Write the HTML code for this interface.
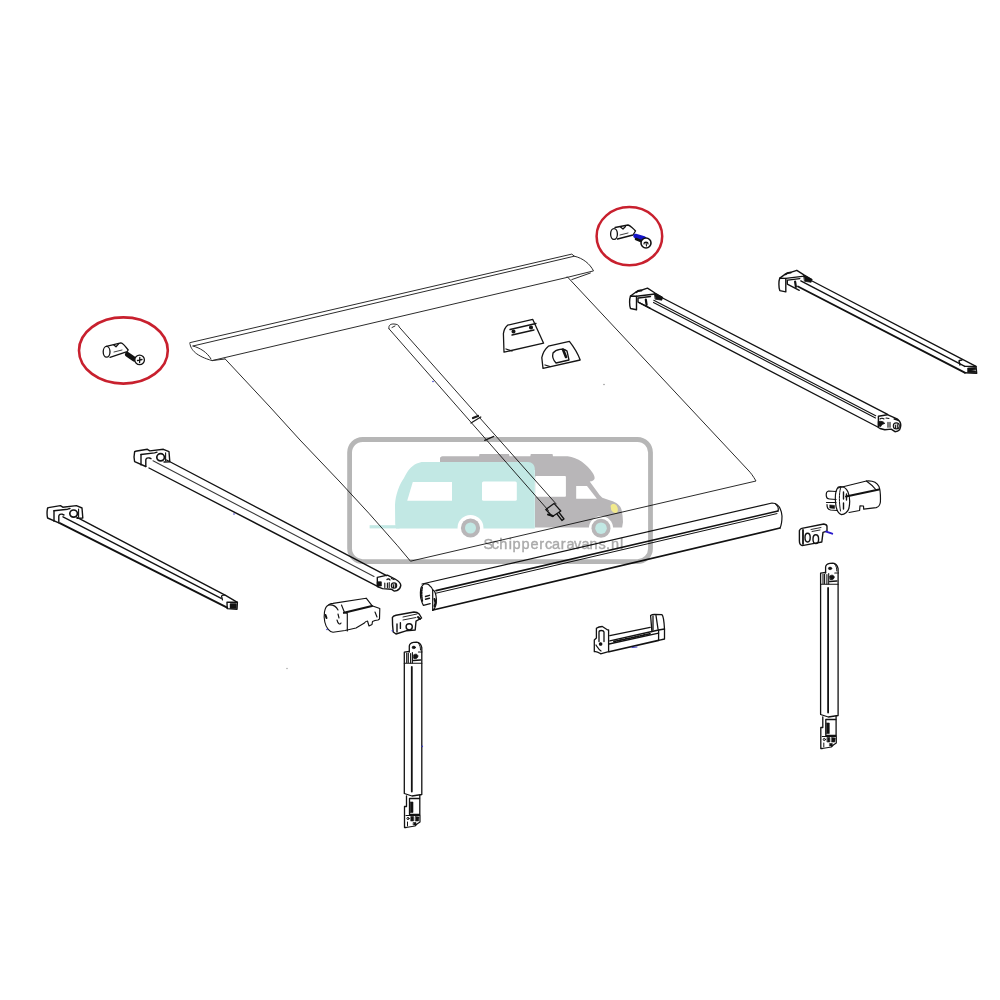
<!DOCTYPE html>
<html><head><meta charset="utf-8">
<style>
html,body{margin:0;padding:0;background:#fff;width:1000px;height:1000px;overflow:hidden}
svg{display:block;position:absolute;left:0;top:0}
.wm{mix-blend-mode:multiply}
.t{font-family:"Liberation Sans",sans-serif;font-size:14.5px;fill:#aaaaaa;stroke:#aaaaaa;stroke-width:0.4px}
</style></head><body>
<svg width="1000" height="1000" viewBox="0 0 1000 1000">
<g fill="none" stroke-linejoin="round" stroke-linecap="round">
<!-- ===== thin lines: rail, fabric ===== -->
<g stroke="#2c2c2c" stroke-width="1">
<path d="M189.6,343 L191,342.4 L571.8,254.1 L574.3,256.2 L193,346"/>
<path d="M574.3,256.2 C583,258 590,264 593.5,270.9 L568,277.2 L212,360.6 L225,359"/>
<path d="M190,344 C191,350 196,356 212,360.6"/>
<path d="M193,346 C200,348 207,352 211,359"/>
<path d="M571.8,279.6 L590.4,273"/>
<path d="M225,358.8 L270,407 L300,440 L340,482 L368.8,513.2 L397.6,545.8 L410.5,561.2 L756,481 C753,476 751,473 748,470 L567.3,276.8"/>
<!-- pole -->
<path d="M389,328.8 C388,325 391,323.8 394,324 C397,324.2 399,325 399.2,327 L556.2,504"/>
<path d="M389,328.8 L548.4,510.5"/>
<path d="M392,327.5 L395,326"/>
</g>
<g stroke="#1a1a1a" stroke-width="1.3">
<path d="M471,423 L480.8,417 M484.7,440.3 L493.8,436.4"/>
<path d="M473,418 L478,416" stroke-width="2.2"/>
<path d="M545.8,509.5 L554,503.4 L560.8,511 L552.5,516.5 Z"/>
<path d="M557,514 L562,520.5 L564,519 L559,512.5"/>
<path d="M548,514.5 L553,516" stroke-width="2"/>
</g>
<!-- ===== brackets on fabric ===== -->
<g stroke="#151515" stroke-width="1.3">
<path d="M507.6,325.2 L532.8,319.4 L543.6,343.2 L504,352.2 L503.4,333.6 C504,329 505.5,327 507.6,325.2 Z"/>
<path d="M510,329.5 L536,323.5"/>
<path d="M512,335 L534,330"/>
<path d="M506,349 L512,351"/>
<circle cx="513.5" cy="331.5" r="1.4" fill="#151515"/>
<circle cx="531" cy="327.5" r="1.4" fill="#151515"/>
<path d="M548.4,346.2 L569.4,341.4 C573,346 578,354 580.2,360 L543,368.4 L541.8,357.6 C543,352 545,349 548.4,346.2 Z"/>
<path d="M553,353 C556,349 564,348 567,351 L569,360 L556,363 C553,360 552,357 553,353 Z"/>
<path d="M563,349.5 L566,357" stroke-width="2.6"/>
<path d="M545,365 L550,366.5"/>
</g>
<!-- ===== arms ===== -->
<g stroke="#121212" stroke-width="1.4">
<!-- arm A -->
<g id="capA">
<path d="M47.6,508.2 C48,507.7 48.2,507.6 48.4,507.6 L60.4,505.6 L62.8,507.2 L76.4,505.6 L82,508 L82.8,518 L77,518.3"/>
<path d="M47.6,508.2 C47,511 47,515.5 47.6,518 L58.8,522.8"/>
<path d="M54,510.8 L54,521.2"/>
<path d="M54,510.8 L67.6,509.2 L70,508.5"/>
<path d="M58.8,522.8 L58.8,516.2 C59,514.6 60.5,513.8 62.5,514.3 L64,515"/>
<ellipse cx="73.6" cy="513.6" rx="3.8" ry="3.6" stroke-width="1.7"/>
<path d="M78.6,509 L78.6,517" stroke-width="1.1"/>
</g>
<path d="M77,517.4 L226,595.6 L237.4,602.3"/>
<path d="M63,516.8 L221.2,598.4"/>
<path d="M59.8,523.2 L227.2,607.6" stroke-width="1.9"/>
<path d="M227,602.3 L237.4,602.3 L237,609.2 L227.2,608.6 Z"/>
<path d="M230.5,604 L236,604 L236,608 L230.5,608 Z" fill="#121212"/>
<path d="M221.5,596 L222.5,600 M222,595.5 L225,595" stroke-width="1.2"/>
<!-- arm B -->
<use href="#capA" transform="translate(87,-56.3)"/>
<path d="M166.6,460 L386.6,575.6"/>
<path d="M153,460.8 L374,576.5" stroke="#3a3a3a" stroke-width="1.1"/>
<path d="M149,468 L378.5,586.8"/>
<path d="M377.3,577.4 L387.4,575.1 L395,579 C398.5,581 400.8,583.5 400.8,585.4 C400.5,588 399.2,589.5 397,590.5 L394.4,591.1 C393,590.5 392,589.5 391.2,589.2 L382.6,588.6 L377.4,586.6 Z"/>
<path d="M377.6,581.8 L381.3,581.8 L381.3,586 L377.6,586 Z" fill="#121212" stroke-width="0.8"/>
<path d="M384.8,583 L384.8,587.5 M387.4,583 L387.4,587.5 M389.2,582.5 L389.2,587.5" stroke-width="1.1"/>
<circle cx="394" cy="585.6" r="2.7" stroke-width="1.1"/>
<path d="M393.2,584.5 L393.5,587.5 M395.3,584 L395.3,587" stroke-width="1.2"/>
<path d="M387,579.5 C388,578.5 389.5,579 390,580 M391.5,578.5 L394,579.5" stroke-width="1.3"/>
<!-- arm C -->
<g id="capC">
<path d="M630.5,296 C629.3,299 629.3,305.5 630.5,308.5 L636.5,309.8 L636.5,296.3 Z"/>
<path d="M630.5,296 L636,292 L647.5,288.2 L655,293 L662.5,297.5"/>
<path d="M636.5,296.3 L655,294"/>
<path d="M636.3,292.3 C637.5,290.8 639.5,290.3 641.5,290.6" stroke-width="1.8"/>
<path d="M638,298 L638,302 L650,308.2 M638.5,298 L650.5,296.5"/>
<path d="M645.8,299.5 L646.6,304.8" stroke-width="2.2"/>
<path d="M654.5,293.3 L662.5,297.2 L661.8,300.2 L655.5,299.2 Z" fill="#121212" stroke-width="0.8"/>
</g>
<path d="M662.6,298 L887.6,414.4"/>
<path d="M653.8,300.2 L875.7,415.8" stroke-width="1.1"/>
<path d="M653.5,302.4 L875.5,418" stroke-width="1.1"/>
<path d="M638.6,302.4 L877.8,427"/>
<path d="M878.4,416.3 L887.4,414.7 L897.6,419.2 C899,420.5 899.8,421.5 900.2,422.4 C900.9,424 901,427 899.5,429.8 C898.5,431 897,431.6 895,431.7 L891.2,429.1 L884.8,429.8 L880,428.5 L878.4,427.5 Z"/>
<path d="M878.6,421.4 C881,421 883.5,421.5 884.8,423.4 C883,424 881.5,424.5 880.8,426.5 L878.6,426 Z" fill="#121212" stroke-width="0.8"/>
<path d="M888,422.4 L888,427.2 M890,422.4 L890,427.2" stroke-width="1.1"/>
<circle cx="896.3" cy="425.9" r="3" stroke-width="1.1"/>
<path d="M895.3,425 L895.5,428 M897.3,424.5 L897.3,427.5" stroke-width="1.1"/>
<path d="M894.4,419 L897.6,420" stroke-width="1.8"/>
<path d="M880,419 C881,418 883,418.2 884,419 M886,418 L889,418.5" stroke-width="1.1"/>
<!-- arm D -->
<use href="#capC" transform="translate(149.3,-17.9)"/>
<path d="M809.2,279.5 L976,366.4"/>
<path d="M800.8,280.9 L964.8,366.4"/>
<path d="M798,286.5 L964.8,372.7" stroke-width="1.9"/>
<path d="M964.8,366.4 L976,366.4 L976.7,373.4 L964.8,372.7"/>
<path d="M968,368 L975.5,367.5 L975.5,369.5 L970,370.5 L975.5,371 L975.5,372.8 L968,372.3 Z" fill="#121212" stroke-width="0.8"/>
<path d="M959,361 L960,365 M959.5,360.5 L962,360"/>
</g>
<!-- ===== front bar ===== -->
<g stroke="#121212" stroke-width="1.2">
<path d="M422,584 L772,503 C777,503 781,507 782,516 C782,522 781,526 780,528"/>
<path d="M433,610 L780,528" stroke-width="1.7"/>
<path d="M436,590.6 L778,511" stroke-width="1.6"/>
<path d="M436,593.2 L777,513.6" stroke-width="1"/>
<path d="M775.5,503.8 C778,506 779,508 778,511"/>
<path d="M424.8,583.6 C421.5,585.5 420.3,589 420.4,592.4 C420.4,596 420.6,599.6 421.2,599.6 C421.8,602 422.5,604 423.4,605.4 L430.2,603.6 M424.8,583.6 C427,583.8 429,584.8 429.1,585.2 C431,586.5 432.2,588 432.7,589.9 L432.7,610.4"/>
<path d="M432.7,589.9 C434.5,590.5 436,594 436.4,599 C436.6,604 435,608.5 432.7,610.4"/>
<path d="M422.2,587.5 C421.5,591 421.5,597 422.5,601.5" stroke-width="1.6" stroke-dasharray="1.4,1"/>
<path d="M425.5,596.5 L429.5,595.3 M425.5,599.2 L429.5,598.2" stroke-width="1.4"/>
<path d="M434.5,599 C435.5,601 435.5,604 434.5,606" stroke-width="2"/>
</g>
<!-- ===== left motor cap ===== -->
<g stroke="#121212" stroke-width="1.15">
<path d="M328.5,605 C324,607 323.5,616 324.8,622 C326,628 330,632 333,632.3 L345,630.5 L356,628 L364,623.3 C365,622 366,621 367.5,621 L369,626 L372,624.5 L372.5,621.5 L375,620.5 L378,620 L379.5,619 L379.8,608.5 L372,605.7 L366.2,598.2 L333,603.4 C331,603.6 329.5,604.2 328.5,605 Z"/>
<path d="M328.5,605 C333,604.5 336,606 338,610"/>
<path d="M341.5,605 L344.5,612.5 L347.3,613.5 L347.3,631"/>
<path d="M344,612.8 L372,606" stroke-width="2.2"/>
<path d="M338,614 L339,618 M337,620 C338,624 340,625 341,623"/>
<path d="M325.5,615 L326.5,618" stroke-width="2"/>
<path d="M375,612 L377,617"/>
</g>
<!-- ===== left small bracket ===== -->
<g stroke="#121212" stroke-width="1.4">
<path d="M392.4,617.6 C393,616 394.5,615.5 396,615.2 L414,612 C416,612 418,612.8 419.2,614 L421.6,618 L416,621.2 L415.2,630 L406,630.8 L396,634 L393.2,632 C392.5,627 392.4,622 392.4,617.6 Z"/>
<circle cx="409.2" cy="626.8" r="3.1"/>
<path d="M400.4,622.8 L400.4,628.4 M397,624 L397,632"/>
<path d="M403,617 L417,614 M403,620 L416,617.5" stroke-width="0.9"/>
<path d="M418,617 L420,619" stroke-width="2"/>
</g>
<!-- ===== left leg ===== -->
<g id="leg" stroke="#121212" stroke-width="1.3">
<path d="M409.3,652 L409.3,646 C409.5,643.5 411.5,642.6 413.5,642.3 L416.6,642.2 C419,642.5 421,644 421.8,647.6 L421.8,652"/>
<ellipse cx="413.8" cy="647.4" rx="1.7" ry="1.3" fill="#121212" stroke-width="0.6"/>
<path d="M418.5,643.5 C420,645 420.5,647 420.5,650" stroke-width="1"/>
<path d="M404.3,652.2 L409.3,651.4 M404.3,652.2 L404.3,793.5 L412,796 L421.8,794.5 L421.8,652"/>
<path d="M406.7,653 L406.7,662.5 M408.3,653 L408.3,662.5 M410.6,653.5 L410.6,663 M412.4,652.5 L412.4,663" stroke-width="1.1"/>
<path d="M404.3,663.3 L421.8,663.3" stroke-width="1.1"/>
<path d="M413.5,655 C415,653.5 417.5,654 418,656 C418,658 416,659 414,658.5 Z" fill="#121212" stroke-width="0.8"/>
<path d="M413.5,660.5 L420.5,660" stroke-width="1.6"/>
<path d="M418.5,652 L420.5,652" stroke-width="1.2"/>
<path d="M411.8,667 L411.8,791.5" stroke-width="1.8"/>
<path d="M406.5,796 L406.5,806.5 L404.5,806.5 L404.5,827.5 L406,827.5"/>
<path d="M419.8,795.5 L419.8,815"/>
<path d="M409.5,798.5 L419.5,798.5 M409.5,798.5 L409.5,814.5 L419.5,814.5"/>
<path d="M410.2,802 L413,802 L413,812.5 L410.2,812.5 Z" fill="#121212" stroke-width="0.6"/>
<path d="M406,815.5 L420,815.5 L420,822 L417,824 L415,826 L406,827.5" stroke-width="1.2"/>
<path d="M411,816.5 L413.5,816.5 L413.5,821 L411,821 Z M415.5,816.5 L419,817 L418.5,821 L415.5,821 Z M413.5,822.5 L416,822.5 L416,825 L413.5,825 Z" fill="#121212" stroke-width="0.6"/>
<circle cx="408" cy="818.5" r="1.1" stroke-width="1"/>
<path d="M407.5,822 L407.5,826" stroke-width="1"/>
</g>
<use href="#leg" transform="translate(416.3,-79)"/>
<!-- ===== right motor cap ===== -->
<g stroke="#121212" stroke-width="1.2">
<path d="M838,488 L866.4,481 C872,480.5 877,482.5 879,486.6 C880.3,490 880.6,496 880.4,502 C880,505 878.5,507 876.2,507.6 L863.7,509.2 L863.5,506 L860,505.8 L859.6,510.5 L849,512.5"/>
<path d="M866.4,481 C870,483.5 873.5,486.5 876.2,490"/>
<path d="M846,496.6 L879,489.4" stroke-width="2"/>
<path d="M838.4,487 C835.5,490 835,497 835.6,503 C836,509 838.5,513.5 841.5,514.6 C844.5,514.5 848,512 849,508 C850,503 849.6,496 848,492 C846.6,489 845,487.5 843,487 C841,486.5 839.5,486.5 838.4,487 Z"/>
<path d="M840.5,488.5 C839,493 839,503 840.5,511" stroke-width="1"/>
<path d="M843.5,492 L843.5,499 M843.5,503 L843.5,509 M846.5,494 L846.5,500" stroke-width="1.4"/>
<path d="M836,491.5 L828.5,491 C826.5,491.5 826,493.5 826.3,496 C826.5,498 827.5,499 829.5,499 L836,499.5"/>
<path d="M826.5,502.5 L836,502.5 M827,504.5 C827,507.5 828,509.5 830.5,510 L837,510.5"/>
<path d="M830,505 L834.5,505.5 L834.5,508.5 L830,508 Z" fill="#121212" stroke-width="0.6"/>
</g>
<!-- ===== right small bracket ===== -->
<g stroke="#121212" stroke-width="1.4">
<path d="M799.4,530.5 C800,529.5 801,528.6 801.8,528.4 L823.8,524 C826,524.3 827,525 827,526.5 L827,531.2 L823,532.4 L821.8,542 L813,543.6 L802.2,545.6 C800,545 799.4,543 799.4,541 Z"/>
<ellipse cx="807.6" cy="537.6" rx="2.6" ry="4.4"/>
<ellipse cx="815.8" cy="539.2" rx="2.8" ry="4.4"/>
<path d="M803,530 L803,544" stroke-width="1.8"/>
<path d="M811,529.5 L821,527.5 M812,531.5 L820,530" stroke-width="0.9"/>
</g>
<path d="M826.2,531.6 L832.2,533.6" stroke="#2a1acc" stroke-width="2" stroke-linecap="round"/>
<!-- ===== handle ===== -->
<g stroke="#121212" stroke-width="1.3">
<path d="M596.4,628.2 C598,627 600,626.5 602.3,626.5 L607.3,629.8 L608.6,629.8 L608.6,651.7 L600.6,653.8 C598,652 597,651 594.3,651.7 L594.3,640 L596.4,638 Z"/>
<path d="M599,641.6 L599,632 C599,630 603.5,630 604,632 L604,641.6"/>
<path d="M596,645 C598,648 599,650 601,651"/>
<circle cx="600.6" cy="644" r="1.2" fill="#121212"/>
<path d="M650.6,615.6 C651.5,614.8 653,614.3 654.4,614.3 L662,614.7 C663.5,616 664,620 664.5,629 L664.5,639 L658.6,640.4 L658.6,630 L651.9,631.5 Z"/>
<path d="M653,616 L653,630 M656,615.5 L658,629"/>
<path d="M658.6,630 L664.5,629"/>
<path d="M609.8,635.7 L650.2,627.3"/>
<path d="M609.8,640.8 L651.9,631.5"/>
<path d="M609,644 L658.6,633.2"/>
<path d="M609,651.7 L658.6,640.4" stroke-width="1.6"/>
<path d="M614,641.5 L650,633.8" stroke-width="1.8" stroke-dasharray="1.5,1.5"/>
</g>
<path d="M632,647.5 L637,647" stroke="#3a3ac0" stroke-width="1"/>
<!-- ===== pins in circles ===== -->
<g stroke="#121212" stroke-width="1.3">
<path d="M106.3,346.4 L120.9,342.8 C123,343 126,347 128.2,350 L127.1,351.6 L110,357.3"/>
<ellipse cx="106.6" cy="351.8" rx="3.4" ry="5.4"/>
<path d="M113.6,344.8 L116,346.8 L118.8,343.6"/>
<path d="M114,352 L122,350" stroke-width="0.8"/>
<path d="M127.5,354.5 L134,359" stroke="#121212" stroke-width="5" stroke-linecap="round"/>
<circle cx="139.6" cy="359.9" r="4.8" fill="#fff"/>
<path d="M137.5,360.5 L142,359.5 M139.8,357.5 L139.6,362.5"/>
<path d="M615,227.5 L628,225 C630,225.5 634,229 635.5,231 L633,235 L617.5,239"/>
<ellipse cx="614" cy="234" rx="3.4" ry="5.4"/>
<path d="M620.5,227 L623,229 L625.5,226.5"/>
<path d="M620,235 L628,233" stroke-width="0.8"/>
</g>
<path d="M635.5,236 L644,238.5" stroke="#1414c8" stroke-width="4.6" stroke-linecap="round"/>
<path d="M636,239 L641,241" stroke="#101010" stroke-width="2.6" stroke-linecap="round"/>
<circle cx="646" cy="243" r="5" fill="#fff" stroke="#121212" stroke-width="1.6"/>
<path d="M644,244 C644,241.5 648,241.5 648,244 M646,242.5 L646.5,246" stroke="#121212" stroke-width="1.1" fill="none"/>
<circle cx="287" cy="668.5" r="0.7" fill="#999"/><circle cx="604" cy="384.5" r="0.8" fill="#999"/>
<!-- blue dots -->
<g fill="#3b3bd0">
<circle cx="433" cy="381.5" r="0.8"/>
<circle cx="327" cy="629.5" r="0.8"/>
<circle cx="392.3" cy="630.7" r="0.8"/>
<circle cx="422.3" cy="746.4" r="0.8"/>
<circle cx="234" cy="514" r="0.8"/>

</g>
</g>
<!-- red circles -->
<ellipse cx="123.4" cy="350.5" rx="44.4" ry="33.1" fill="none" stroke="#c8202e" stroke-width="2.6"/>
<ellipse cx="629.4" cy="236.2" rx="32.8" ry="29.1" fill="none" stroke="#c8202e" stroke-width="2.5"/>
<!-- watermark -->
<g class="wm">
<rect x="349.6" y="439.5" width="300.9" height="122.1" rx="13" fill="none" stroke="#b6b6b6" stroke-width="4.8"/>
<!-- camper -->
<path d="M440,470 L440,458.6 C440,457.2 441,456.3 442.5,456.3 L479,456.3 L479.5,454.1 L509,454.1 L509.5,456.3 L530.3,456.3 L530.8,454.1 L552.5,454.1 L553,456.3 L567.7,456.3 C578,457.5 587,464.5 592.4,472.5 C594,475 594.8,477 594.6,478.5 C594.4,480 592.5,481.3 589.7,481.5 L599.6,495 L602.3,497.7 L610.4,500.4 C614,501.5 616,502.5 617.6,504 C620,506 621,507.5 621.6,510 L622.6,516 L623,522 L622.1,527.4 L535,527.4 L535,470 Z" fill="#b8b6b8"/>
<rect x="535.2" y="476.1" width="30.7" height="20.7" rx="0.8" fill="#fff"/>
<path d="M576.2,486 L587,486 L596.9,498.8 L576.2,498.8 Z" fill="#fff"/>
<path d="M610.6,506 C611.5,503.5 614.5,503.5 616.5,505.5 C618,507.5 618.2,510.5 617.2,512.5 C615.5,513.5 612.5,512.5 611.2,510 Z" fill="#f2ea8c"/>
<circle cx="601" cy="528.2" r="12.1" fill="#fff"/>
<circle cx="601" cy="528.2" r="9.5" fill="#b8b6b8"/>
<circle cx="601" cy="528.2" r="5.8" fill="#c2e8e4"/>
<!-- caravan -->
<rect x="369.6" y="525.2" width="30" height="3.2" fill="#c2e8e4"/>
<path d="M396,528.4 L395.2,524 L395,505 C395.5,495 399,485 404,478 C407,472 411,466 416.8,463.6 C419,462.5 421,462 423.2,462 L528,462 C532,462 534.8,465 534.8,469 L534.8,528.4 Z" fill="#c2e8e4"/>
<path d="M412.8,482 L452,482 L452,500.8 L407.2,500.8 Z" fill="#fff"/>
<rect x="482" y="481.6" width="34.8" height="19.2" rx="1.5" fill="#fff"/>
<circle cx="470.5" cy="528" r="13" fill="#fff"/>
<circle cx="470.5" cy="528" r="9.6" fill="#b8b6b8"/>
<circle cx="470.5" cy="528" r="5.5" fill="#c2e8e4"/>
<text class="t" x="483.57 491.68 499.20 508.65 512.48 521.48 530.38 539.20 545.05 551.95 560.70 566.45 573.90 581.45 589.45 598.45 606.00 610.95 619.90" y="548.5">Schippercaravans.nl</text>
</g>
</svg>
</body></html>
